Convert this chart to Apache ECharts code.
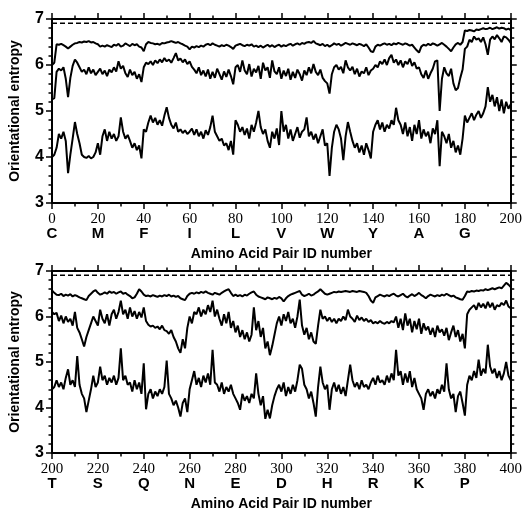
<!DOCTYPE html>
<html><head><meta charset="utf-8">
<script src="https://cdn.jsdelivr.net/npm/echarts@6/dist/echarts.min.js"></script>
<style>html,body{margin:0;padding:0;background:#fff}#c{width:525px;height:512px}</style>
</head><body><div id="c"></div>
<script>
const maxEntropy = 6.908;
const topLetters = ['C','M','F','I','L','V','W','Y','A','G'];
const botLetters = ['T','S','Q','N','E','D','H','R','K','P'];
const yTicks = [3,4,5,6,7];

const topA = [6.00,6.05,6.45,6.44,6.46,6.43,6.40,6.36,6.40,6.44,
6.47,6.48,6.50,6.49,6.51,6.50,6.52,6.49,6.50,6.47,
6.45,6.40,6.42,6.40,6.43,6.41,6.39,6.44,6.42,6.46,
6.40,6.42,6.47,6.44,6.41,6.46,6.43,6.45,6.40,6.38,
6.30,6.45,6.50,6.48,6.47,6.45,6.46,6.44,6.48,6.47,
6.49,6.50,6.52,6.50,6.48,6.50,6.47,6.45,6.42,6.40,
6.34,6.40,6.38,6.41,6.39,6.42,6.40,6.44,6.46,6.43,
6.47,6.44,6.42,6.40,6.43,6.41,6.44,6.42,6.39,6.35,
6.42,6.44,6.46,6.43,6.41,6.44,6.42,6.45,6.40,6.42,
6.39,6.42,6.38,6.41,6.44,6.40,6.43,6.39,6.42,6.44,
6.40,6.43,6.41,6.44,6.46,6.42,6.45,6.47,6.44,6.48,
6.46,6.49,6.50,6.48,6.52,6.47,6.45,6.43,6.46,6.41,
6.44,6.40,6.43,6.47,6.44,6.46,6.42,6.45,6.48,6.46,
6.44,6.47,6.45,6.43,6.46,6.44,6.41,6.45,6.38,6.30,
6.28,6.40,6.44,6.42,6.45,6.47,6.44,6.46,6.43,6.47,
6.45,6.48,6.46,6.44,6.47,6.45,6.42,6.44,6.38,6.32,
6.27,6.40,6.44,6.42,6.46,6.43,6.47,6.45,6.42,6.45,
6.48,6.44,6.40,6.35,6.30,6.38,6.45,6.48,6.44,6.50,
6.75,6.74,6.76,6.75,6.73,6.77,6.76,6.78,6.80,6.78,
6.79,6.81,6.78,6.80,6.82,6.79,6.81,6.80,6.77,6.79,
6.76];
const topB = [5.25,5.28,5.85,5.92,5.88,5.95,5.70,5.30,5.72,5.98,
6.12,6.05,5.95,5.85,5.90,5.80,5.95,5.82,5.90,5.78,
5.85,5.92,5.80,5.88,5.76,5.90,5.84,5.95,5.86,6.08,
5.92,5.98,5.82,5.74,5.90,5.78,5.85,5.70,5.80,5.63,
5.95,6.05,6.02,6.08,6.00,6.10,6.04,6.12,6.06,6.15,
6.08,6.12,6.05,6.15,6.26,6.10,6.14,6.06,6.12,6.02,
6.08,5.96,5.90,5.82,5.95,5.78,5.88,5.75,5.90,5.70,
5.85,5.72,5.92,5.80,5.68,5.86,5.74,5.90,5.76,5.58,
5.95,6.00,5.85,6.10,5.88,5.80,6.02,5.75,5.92,5.84,
5.98,5.70,6.05,5.88,5.95,5.72,6.10,5.86,5.80,5.95,
5.70,5.88,5.76,5.92,5.68,5.85,5.72,5.90,5.80,5.66,
5.88,5.78,5.95,5.82,6.02,5.85,5.78,5.90,5.72,5.65,
5.60,5.38,5.80,5.95,6.00,5.90,5.96,5.82,6.10,5.95,
5.88,5.96,5.80,5.92,5.75,5.86,5.82,5.95,5.78,5.88,
5.92,6.00,5.95,6.08,6.02,6.12,6.00,6.15,6.22,6.05,
6.12,6.00,6.10,5.95,6.08,6.02,6.14,5.98,6.06,5.92,
5.95,5.80,5.72,5.88,5.70,5.82,5.92,6.08,6.10,5.00,
5.70,5.95,5.82,5.76,5.92,5.60,5.45,5.50,5.72,5.90,
6.35,6.40,6.55,6.50,6.62,6.55,6.58,6.50,6.60,6.45,
6.22,6.55,6.62,6.56,6.65,6.58,6.50,6.62,6.60,6.55,
6.48];
const topC = [4.00,4.05,4.20,4.50,4.40,4.55,4.35,3.65,4.05,4.40,
4.76,4.50,4.30,4.05,4.00,3.98,4.02,3.97,4.00,4.10,
4.30,4.05,4.45,4.60,4.35,4.55,4.40,4.50,4.35,4.45,
4.86,4.55,4.40,4.48,4.35,4.20,4.30,4.15,4.25,3.97,
4.60,4.55,4.75,4.90,4.75,4.85,4.70,4.80,4.68,4.90,
5.08,4.85,4.70,4.62,4.75,4.55,4.60,4.52,4.58,4.50,
4.55,4.62,4.48,4.60,4.45,4.55,4.40,4.58,4.48,4.65,
4.90,4.55,4.45,4.35,4.40,4.25,4.30,4.15,4.35,4.05,
4.80,4.70,4.55,4.65,4.48,4.62,4.40,4.70,4.55,4.75,
5.00,4.65,4.50,4.60,4.35,4.20,4.55,4.40,4.62,4.26,
5.00,4.55,4.70,4.40,4.60,4.35,4.50,4.65,4.42,4.55,
4.60,4.86,4.45,4.55,4.38,4.50,4.30,4.45,4.60,4.25,
4.30,3.59,4.20,4.55,4.70,4.60,4.40,3.93,4.45,4.76,
4.55,4.35,4.20,4.30,4.10,4.25,4.05,4.30,4.15,3.97,
4.55,4.70,4.80,4.60,4.75,4.55,4.70,4.62,4.80,4.70,
5.07,4.80,4.70,4.50,4.75,4.45,4.65,4.35,4.70,4.50,
4.80,4.40,4.60,4.45,4.55,4.30,4.62,4.50,4.80,3.80,
4.55,4.45,4.30,4.50,4.20,4.35,4.10,4.25,4.05,4.40,
4.90,4.75,4.85,4.95,4.80,4.92,5.00,4.85,4.95,5.10,
5.52,5.20,5.35,5.10,5.30,5.00,5.25,4.95,5.20,5.05,
5.15];
const botA = [6.57,6.52,6.48,6.47,6.50,6.45,6.48,6.46,6.49,6.44,
6.47,6.45,6.42,6.40,6.38,6.36,6.45,6.50,6.55,6.58,
6.52,6.48,6.50,6.53,6.50,6.55,6.52,6.54,6.50,6.53,
6.55,6.50,6.52,6.48,6.45,6.40,6.42,6.50,6.60,6.55,
6.48,6.45,6.46,6.44,6.47,6.45,6.43,6.46,6.44,6.47,
6.45,6.48,6.44,6.46,6.43,6.45,6.40,6.38,6.36,6.45,
6.50,6.52,6.50,6.53,6.51,6.54,6.52,6.55,6.52,6.50,
6.48,6.52,6.50,6.48,6.52,6.55,6.58,6.60,6.52,6.45,
6.48,6.45,6.47,6.44,6.48,6.46,6.50,6.53,6.55,6.48,
6.44,6.42,6.40,6.38,6.42,6.40,6.38,6.41,6.39,6.43,
6.40,6.33,6.40,6.45,6.48,6.50,6.52,6.54,6.56,6.48,
6.45,6.47,6.50,6.46,6.48,6.52,6.55,6.60,6.55,6.50,
6.48,6.50,6.52,6.54,6.53,6.55,6.54,6.55,6.56,6.55,
6.54,6.56,6.55,6.54,6.56,6.55,6.54,6.52,6.45,6.35,
6.30,6.42,6.45,6.48,6.46,6.44,6.47,6.45,6.48,6.50,
6.46,6.44,6.47,6.50,6.45,6.42,6.46,6.49,6.45,6.48,
6.52,6.47,6.44,6.40,6.45,6.48,6.46,6.44,6.47,6.45,
6.48,6.46,6.50,6.47,6.44,6.46,6.42,6.40,6.38,6.37,
6.45,6.55,6.54,6.56,6.55,6.57,6.56,6.58,6.57,6.60,
6.58,6.60,6.62,6.60,6.62,6.64,6.62,6.68,6.74,6.70,
6.65];
const botB = [6.10,6.05,6.08,5.90,6.02,5.85,6.00,5.88,5.95,5.80,
6.10,5.75,5.65,5.50,5.34,5.55,5.70,5.85,6.00,5.90,
5.80,6.15,5.95,5.85,6.05,5.80,6.05,6.15,5.95,6.10,
6.35,6.05,6.15,5.95,6.20,6.00,6.12,5.95,6.10,5.98,
6.20,5.90,5.82,5.78,5.80,5.75,5.78,5.72,5.80,5.70,
5.68,5.62,5.70,5.55,5.45,5.30,5.20,5.50,5.30,5.75,
6.00,5.85,6.10,6.05,6.20,6.00,6.15,6.05,6.25,6.10,
6.35,6.00,6.15,5.95,5.80,6.05,5.85,6.10,5.75,5.90,
5.65,5.80,5.55,5.70,5.50,5.65,5.45,5.60,6.20,5.70,
5.90,5.55,5.75,5.30,5.45,5.15,5.35,5.60,5.85,6.00,
5.80,6.05,5.90,6.10,5.85,5.95,5.75,6.00,6.37,5.80,
5.60,5.75,5.50,5.65,5.45,5.40,5.80,6.15,5.95,6.00,
5.90,5.98,5.88,5.95,5.85,5.95,5.90,6.00,5.92,6.15,
6.00,5.95,5.88,6.02,5.92,5.98,5.90,5.95,5.88,5.92,
5.85,5.88,5.85,5.90,5.86,5.84,5.88,5.85,5.90,5.87,
6.00,5.75,5.95,5.70,6.07,5.80,5.95,5.65,5.90,5.72,
5.95,5.62,5.85,5.70,5.78,5.60,5.75,5.55,5.80,5.65,
5.72,5.58,5.75,5.48,5.65,5.80,5.55,5.70,5.45,5.62,
5.30,6.05,6.15,6.20,6.25,6.15,6.30,6.20,6.28,6.18,
6.32,6.20,6.30,6.15,6.25,6.22,6.30,6.25,6.35,6.22,
6.18];
const botC = [4.40,4.45,4.60,4.45,4.55,4.40,4.65,4.84,4.50,4.60,
4.45,5.13,4.50,4.30,4.20,3.90,4.15,4.40,4.70,4.45,
4.55,4.90,4.60,4.70,4.50,4.65,4.55,4.70,4.50,4.65,
5.30,4.60,4.70,4.50,4.55,4.35,4.60,4.40,4.55,4.30,
4.97,3.96,4.30,4.40,4.20,4.35,4.25,4.40,4.30,4.45,
5.03,4.30,4.20,4.05,4.15,4.00,3.80,4.10,4.20,3.90,
4.40,4.60,4.80,4.50,4.65,4.45,4.70,4.55,4.75,4.50,
5.27,4.55,4.50,4.35,4.55,4.30,4.45,4.35,4.50,4.30,
4.20,4.10,3.95,4.30,4.15,4.25,4.10,4.30,4.20,4.75,
4.30,4.05,4.25,3.75,3.95,3.76,4.05,4.25,4.40,4.50,
4.35,4.55,4.25,4.45,4.30,4.50,4.35,4.60,4.94,4.85,
4.50,4.40,4.20,4.35,4.10,3.80,4.45,4.90,4.55,4.40,
4.50,3.95,4.40,4.55,4.35,4.50,4.30,4.45,4.25,4.60,
4.94,4.60,4.45,4.55,4.40,4.60,4.45,4.50,4.40,4.55,
4.65,4.50,4.70,4.55,4.60,4.50,4.70,4.55,4.75,4.60,
5.27,4.70,4.80,4.50,4.75,4.55,4.80,4.45,4.65,4.40,
4.30,4.20,3.95,4.30,4.40,4.25,4.35,4.20,4.40,4.30,
4.50,4.35,4.97,4.40,4.20,4.30,3.90,4.25,4.35,4.10,
3.82,4.50,4.70,4.60,4.80,4.65,5.05,4.70,4.85,4.75,
5.38,4.90,4.75,4.85,4.65,4.80,4.60,4.75,5.00,4.70,
4.60];

const chart = echarts.init(document.getElementById('c'), null, {renderer:'canvas'});
const grids = [{left:52, right:13, top:19, height:184}, {left:52, right:13, top:271, height:183}];
function pairs(arr, off){ return arr.map((v,i)=>[i+off, v]); }
function tickCfg(){ return {show:true, length:6, lineStyle:{color:'#000', width:1.5}}; }
function minorCfg(n){ return {show:true, splitNumber:n, length:3.5, lineStyle:{color:'#000', width:1.5}}; }
function xBottom(gi, min, letters){
  return {
    gridIndex: gi, type:'value', min:min, max:min+200, interval:20, position:'bottom',
    name:'Amino Acid Pair ID number', nameLocation:'middle', nameGap:44,
    nameTextStyle:{fontFamily:'Liberation Sans', fontWeight:'bold', fontSize:14, color:'#000'},
    axisLine:{onZero:false, lineStyle:{color:'#000', width:2}},
    axisTick:tickCfg(), minorTick:minorCfg(2),
    splitLine:{show:false},
    axisLabel:{margin:9, color:'#000',
      formatter:function(v){ const k=Math.round((v-min)/20); const L = letters[k]||''; return '{n|'+v+'}\n{l|'+L+'}'; },
      rich:{n:{fontFamily:'Liberation Serif', fontSize:15, lineHeight:14, color:'#000'},
            l:{fontFamily:'Liberation Sans', fontWeight:'bold', fontSize:15, lineHeight:16, color:'#000'}}}
  };
}
function xTopAx(gi, min){
  return {gridIndex:gi, type:'value', min:min, max:min+200, interval:20, position:'top',
    axisLine:{onZero:false, lineStyle:{color:'#000', width:2}},
    axisTick:tickCfg(), minorTick:minorCfg(2),
    splitLine:{show:false}, axisLabel:{show:false}};
}
function yLeft(gi){
  return {gridIndex:gi, type:'value', min:3, max:7, interval:1, position:'left',
    name:'Orientational entropy', nameLocation:'middle', nameGap:30,
    nameTextStyle:{fontFamily:'Liberation Sans', fontWeight:'bold', fontSize:14, color:'#000'},
    axisLine:{onZero:false, lineStyle:{color:'#000', width:2}},
    axisTick:tickCfg(), minorTick:minorCfg(5),
    splitLine:{show:false},
    axisLabel:{margin:8, color:'#000', fontFamily:'Liberation Sans', fontWeight:'bold', fontSize:16,
      formatter:function(v){ return yTicks.indexOf(v)>=0 ? String(v) : ''; }}};
}
function yRight(gi){
  return {gridIndex:gi, type:'value', min:3, max:7, interval:1, position:'right',
    axisLine:{onZero:false, lineStyle:{color:'#000', width:2}},
    axisTick:tickCfg(), minorTick:minorCfg(5),
    splitLine:{show:false}, axisLabel:{show:false}};
}
function line(data, xi, yi, dashed){
  return {type:'line', xAxisIndex:xi, yAxisIndex:yi, data:data, symbol:'none', animation:false,
    lineStyle:{color:'#000', width: dashed?1.5:2, type: dashed?[5,3]:'solid'}};
}
chart.setOption({
  animation:false,
  grid:grids,
  xAxis:[xBottom(0,0,topLetters), xTopAx(0,0), xBottom(1,200,botLetters), xTopAx(1,200)],
  yAxis:[yLeft(0), yRight(0), yLeft(1), yRight(1)],
  series:[
    line([[0,maxEntropy],[200,maxEntropy]],0,0,true),
    line(pairs(topA,0),0,0), line(pairs(topB,0),0,0), line(pairs(topC,0),0,0),
    line([[200,maxEntropy],[400,maxEntropy]],2,2,true),
    line(pairs(botA,200),2,2), line(pairs(botB,200),2,2), line(pairs(botC,200),2,2)
  ]
});
</script></body></html>
